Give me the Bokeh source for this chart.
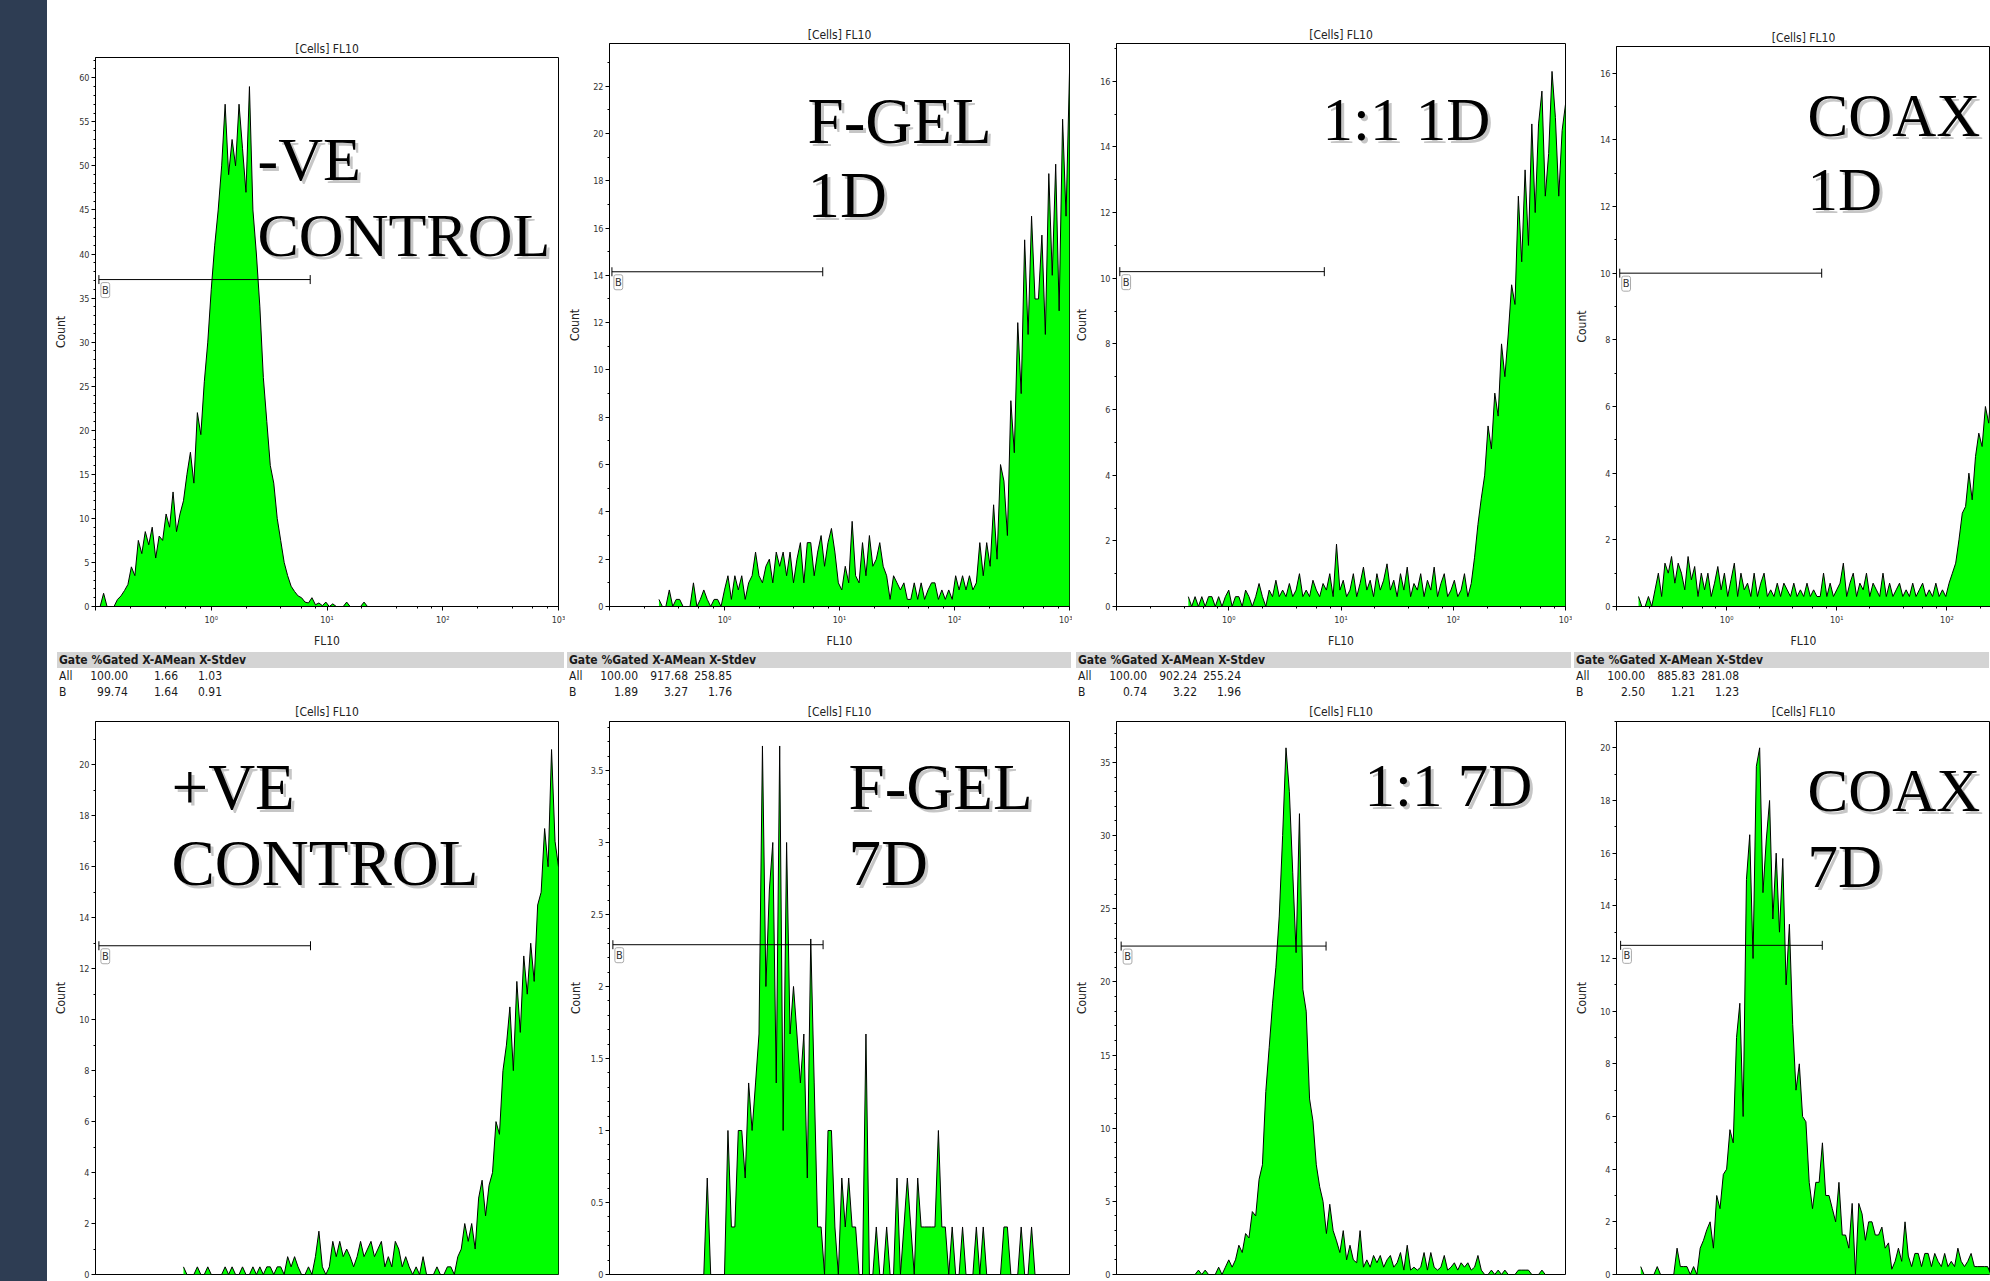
import numpy as np
from bokeh.plotting import figure
from bokeh.models import (Label, Whisker, TeeHead, ColumnDataSource, SingleIntervalTicker,
                          LogTicker, CustomJSTickFormatter, Div, Range1d)
from bokeh.layouts import row, column
from bokeh.embed import file_html
from bokeh.resources import INLINE

# ---------------- data (histogram counts) ----------------
BIN_STEP = 0.03  # bin width, in decades of FL10

p1_start = -0.96
p1_counts = [0, 1.5, 0, 0, 0, 0.8, 1.2, 1.8, 2.5, 4.5,
             3.5, 7.5, 6, 8.5, 7, 9, 5.5, 8, 7.5, 10.5,
             9, 13, 8.5, 10.5, 12, 15, 17.5, 14, 22, 19.5,
             25.5, 30, 36, 41, 45, 50, 57, 49, 53, 50,
             57, 52, 47, 59, 45, 40, 34, 26, 21, 16,
             14, 10, 7.5, 5, 3.5, 2.3, 1.7, 1.2, 1, 0.5,
             0.4, 1, 0.2, 0.4, 0.1, 0.5, 0, 0.3, 0, 0,
             0, 0.5, 0, 0, 0, 0, 0.5, 0]

p2_start = -0.57
p2_counts = [0.3, 0, 0, 0.7, 0, 0.3, 0.3, 0, 0, 0,
             1.0, 0, 0.3, 0.7, 0.3, 0, 0.3, 0.3, 0, 0.7,
             1.3, 0.3, 1.3, 0.7, 1.3, 0.3, 1.0, 1.3, 2.3, 1.3,
             1.0, 1.7, 2.0, 1.0, 2.3, 1.7, 2.3, 1.3, 2.3, 1.0,
             2.0, 2.7, 1.0, 2.7, 2.7, 1.3, 2.3, 3.0, 1.7, 2.7,
             3.3, 2.3, 1.0, 0.7, 1.7, 1.0, 3.6, 1.3, 1.0, 2.7,
             1.3, 3.0, 1.7, 2.0, 2.7, 1.7, 1.3, 0.3, 1.3, 1.0,
             0.7, 1.0, 0.3, 0.3, 1.0, 0.3, 1.0, 0.3, 0.7, 1.0,
             1.0, 0.3, 0.7, 0.3, 0.7, 0.3, 1.3, 0.7, 1.3, 0.7,
             1.3, 0.7, 1.0, 2.7, 1.3, 2.7, 1.7, 4.3, 2.0, 6.0,
             5.3, 3.0, 8.7, 6.5, 12.0, 9.0, 15.5, 11.5, 16.5, 13.0,
             13.0, 15.7, 11.5, 18.3, 14.0, 18.7, 12.5, 20.6, 16.5, 22.6]

p3_start = -0.36
p3_counts = [0.3, 0, 0.3, 0, 0.3, 0, 0.3, 0.3, 0, 0.3,
             0, 0.3, 0.5, 0, 0.3, 0.3, 0, 0.5, 0.3, 0,
             0.3, 0.7, 0.3, 0, 0.5, 0.3, 0.8, 0.3, 0.5, 0.3,
             0.7, 0.3, 0.5, 1.0, 0.3, 0.5, 0.3, 0.8, 0.5, 0.3,
             0.7, 0.5, 1.0, 0.3, 1.9, 0.5, 0.8, 0.3, 0.5, 1.0,
             0.3, 0.7, 1.2, 0.5, 0.8, 0.3, 1.0, 0.5, 0.8, 1.3,
             0.5, 0.8, 0.3, 1.0, 0.5, 1.2, 0.3, 0.7, 0.5, 1.0,
             0.3, 0.8, 0.5, 1.2, 0.3, 0.7, 1.0, 0.3, 0.5, 0.8,
             0.3, 0.5, 1.0, 0.3, 0.7, 1.5, 2.5, 3.3, 4.0, 5.5,
             4.8, 6.5, 5.8, 8.0, 7.0, 8.3, 9.8, 9.2, 12.5, 10.5,
             13.3, 11.0, 14.7, 12.0, 14.7, 15.7, 12.5, 13.8, 16.3, 14.9,
             12.5, 14.5, 15.3]

p4_start = -0.80
p4_counts = [0.3, 0, 0, 0.3, 0, 0.5, 1.0, 0.3, 1.3, 1.0,
             1.5, 0.7, 1.3, 1.0, 0.5, 1.5, 0.8, 1.2, 0.3, 1.0,
             0.5, 1.0, 0.3, 0.7, 1.2, 0.5, 1.0, 0.3, 0.8, 1.3,
             0.3, 1.0, 0.5, 0.7, 0.3, 1.0, 0.3, 0.7, 1.0, 0.3,
             0.5, 0.3, 0.7, 0.3, 0.7, 0.5, 0.3, 0.7, 0.3, 0.5,
             0.3, 0.7, 0.3, 0.5, 0.3, 0.3, 1.0, 0.3, 0.7, 0.3,
             0.5, 0.7, 1.3, 0.3, 0.7, 1.0, 0.3, 0.7, 0.5, 1.0,
             0.3, 0.7, 0.5, 0.3, 1.0, 0.3, 0.7, 0.3, 0.5, 0.7,
             0.3, 0.5, 0.3, 0.7, 0.3, 0.5, 0.7, 0.3, 0.5, 0.3,
             0.7, 0.3, 0.5, 0.3, 0.7, 1.0, 1.3, 2.0, 2.8, 3.0,
             4.0, 3.2, 4.5, 5.2, 4.8, 6.0, 5.5, 7.0]

p5_start = -0.24
p5_counts = [0.3, 0, 0, 0, 0.3, 0, 0, 0.3, 0, 0,
             0, 0, 0.3, 0, 0.3, 0, 0, 0.3, 0, 0,
             0.3, 0, 0.3, 0, 0.3, 0.3, 0, 0.3, 0.3, 0,
             0.7, 0.3, 0.7, 0.3, 0, 0, 0.3, 0, 0.7, 1.7,
             0.3, 0, 0.3, 1.3, 0.7, 1.3, 0.7, 1.0, 0.7, 0.3,
             0.7, 1.3, 0.7, 1.0, 1.3, 0.7, 1.0, 1.3, 0.3, 0.7,
             0.3, 1.3, 1.0, 0.3, 0.7, 0.3, 0, 0.3, 0, 0.7,
             0, 0, 0, 0.3, 0, 0, 0.3, 0.3, 0, 0.7,
             1.0, 2.0, 1.3, 2.0, 1.0, 3.0, 3.7, 2.3, 3.5, 4.0,
             6.0, 5.5, 8.0, 9.0, 10.5, 8.0, 11.5, 9.5, 12.5, 11.0,
             13.0, 11.5, 14.5, 15.0, 17.5, 16.0, 20.6, 17.0, 16.0]

p6_start = -0.18
p6_counts = [0, 0.67, 0, 0, 0, 0, 0, 1.0, 0.33, 0.33,
             1.0, 1.0, 0.67, 1.33, 1.0, 1.33, 1.67, 3.67, 2.0, 2.67,
             3.0, 1.33, 3.67, 1.0, 3.0, 1.67, 2.0, 1.67, 1.33, 1.67,
             0.67, 2.33, 1.33, 0.33, 0.33, 0, 1.0, 1.0, 0.33, 0,
             0.67, 0.33, 0.67, 0.33, 0.33, 0, 0, 1.67, 0, 0,
             0.33, 0, 0, 0.33, 0, 0, 0.67, 0, 0.33, 0.67,
             0.33, 0, 0.67, 0.33, 0.33, 0.33, 0.33, 0.33, 1.0, 0.33,
             0.33, 0, 0.33, 0, 0, 0.33, 0, 0, 0, 0.33,
             0, 0.33, 0, 0, 0, 0, 0, 0.33, 0.33, 0,
             0, 0, 0.33, 0, 0, 0.33, 0]

p7_start = -0.30
p7_counts = [0, 0.3, 0, 0.3, 0, 0, 0, 0.5, 0, 0.5,
             1.0, 0.5, 1.0, 2.0, 1.5, 2.8, 2.5, 4.3, 4.0, 6.5,
             7.5, 12.5, 15.5, 18.5, 21.0, 24.5, 30.0, 36.0, 33.0, 27.5,
             22.0, 31.5, 19.5, 18.0, 12.0, 10.5, 7.5, 6.0, 5.0, 2.8,
             4.8, 3.0, 2.3, 1.5, 3.0, 1.0, 2.0, 1.0, 0.8, 3.0,
             0.5, 1.0, 0.5, 1.3, 0.8, 1.3, 0.5, 1.0, 1.3, 0.5,
             0.8, 1.5, 0.3, 2.0, 0.3, 0.5, 0.3, 0.5, 1.5, 0.3,
             1.5, 0.5, 0.3, 0.5, 1.3, 0.3, 0.5, 0.8, 0.3, 0.8,
             0.5, 0.8, 0.3, 0.5, 1.3, 0.3, 0, 0, 0.3, 0,
             0.3, 0, 0.3, 0, 0, 0, 0.3, 0.3, 0.3, 0.3,
             0, 0, 0, 0.3, 0]

p8_start = -0.78
p8_counts = [0.3, 0, 0, 0, 0, 0.3, 0, 0, 0, 0,
             0, 1.0, 0.3, 0.3, 0.3, 0, 0.3, 0, 1.0, 1.3,
             1.7, 2.0, 1.0, 3.0, 2.5, 3.8, 4.0, 5.5, 5.0, 9.0,
             10.3, 6.0, 15.0, 16.7, 12.0, 19.3, 20.0, 14.5, 16.5, 18.0,
             13.5, 16.0, 13.0, 15.8, 11.0, 13.3, 9.5, 7.0, 8.0, 6.0,
             5.8, 3.5, 2.5, 3.5, 3.5, 5.0, 3.0, 3.0, 2.5, 2.0,
             3.5, 1.5, 1.5, 1.0, 2.7, 0, 2.7, 2.3, 1.3, 2.0,
             2.0, 1.5, 1.5, 1.8, 1.0, 1.2, 0.2, 0.5, 1.0, 0.5,
             2.0, 0.7, 0.3, 0.8, 0.8, 0.3, 0.8, 0.8, 0.3, 0.8,
             0.5, 0.3, 0.8, 0.3, 0.5, 0.3, 1.0, 0.5, 0.3, 0.5,
             0.8, 0.3, 0.3, 0.3, 0.3, 0.3, 0]

starts = [p1_start, p2_start, p3_start, p4_start, p5_start, p6_start, p7_start, p8_start]
counts = [p1_counts, p2_counts, p3_counts, p4_counts, p5_counts, p6_counts, p7_counts, p8_counts]

panel_text = [["-VE", "CONTROL"], ["F-GEL", "1D"], ["1:1 1D"], ["COAX", "1D"],
              ["+VE", "CONTROL"], ["F-GEL", "7D"], ["1:1 7D"], ["COAX", "7D"]]
y_top = [62.3, 23.8, 17.15, 16.8, 21.7, 3.84, 37.8, 21.0]
y_step = [5, 2, 2, 2, 2, 0.5, 5, 2]
y_minor = [5, 2, 2, 2, 2, 5, 5, 2]
x_max = [1000, 1000, 1000, 249, 1000, 1000, 1000, 249]
gate_y = [37.1, 14.15, 10.2, 10.0, 12.9, 2.29, 22.45, 12.5]
gate_lo = [0.107, 0.105, 0.107, 0.107, 0.107, 0.107, 0.11, 0.109]
gate_hi = [7.16, 7.15, 7.1, 7.3, 7.2, 7.2, 7.36, 7.39]

stats_header = "Gate %Gated X-AMean X-Stdev"
stats_rows = [
    [("All", "100.00", "1.66", "1.03"), ("B", "99.74", "1.64", "0.91")],
    [("All", "100.00", "917.68", "258.85"), ("B", "1.89", "3.27", "1.76")],
    [("All", "100.00", "902.24", "255.24"), ("B", "0.74", "3.22", "1.96")],
    [("All", "100.00", "885.83", "281.08"), ("B", "2.50", "1.21", "1.23")],
]

# ---------------- layout / style constants ----------------
UI = "'DejaVu Sans Condensed', Roboto, sans-serif"
SERIF = "Liberation Serif"
CSS_UI = "'DejaVu Sans Condensed',Roboto,sans-serif"
GREEN = "#00ff00"

BAND_W = 47
COL_W = [518, 507, 500, 418]
B_LEFT = [48, 40, 42, 40]
B_RIGHT = [7, 3, 7, 0]
TOP_H, TAB_H, BOT_H = 650, 50, 581
TOP_BT = [57, 43, 43, 46]
TOP_BB = 42
BOT_BT = [20, 20, 20, 21]
BOT_BB = 7
LABEL_POS = [[(162, 448), (162, 372)], [(198, 486), (198, 412)], [(206, 487)],
             [(191, 491), (191, 417)],
             [(76, 488), (76, 412)], [(239, 488), (239, 412)], [(248, 489)],
             [(191, 484), (191, 408)]]
LABEL_SIZE = ["62px", "65px", "61px", "61px", "65px", "65px", "61px", "61px"]
COUNT_STANDOFF = [8, 8, 8, 8, 8, 5, 8, 8]
TABLE_LEFT = [12, 4, 6, 4]

x_fmt = CustomJSTickFormatter(code="""
const e = Math.round(Math.log10(tick));
if (e < 0) return "";
const s = ["\u2070", "\u00b9", "\u00b2", "\u00b3", "\u2074"];
return "10" + s[e];
""")
y_fmt = CustomJSTickFormatter(code="return String(Math.round(tick * 100) / 100);")


def make_panel(k, width, height, bt, bb, top_row):
    c = k % 4
    p = figure(width=width, height=height, x_axis_type="log",
               x_range=Range1d(0.1, x_max[k]), y_range=Range1d(0, y_top[k]),
               output_backend="svg", toolbar_location=None,
               min_border_left=B_LEFT[c], min_border_right=B_RIGHT[c],
               min_border_top=bt, min_border_bottom=bb, title="[Cells] FL10")
    p.title.align = "center"
    p.title.text_font = UI
    p.title.text_font_size = "12px"
    p.title.text_font_style = "normal"
    p.title.text_color = "#222222"
    p.title.standoff = 4 if top_row else 5
    p.grid.visible = False
    p.outline_line_color = "black"
    p.outline_line_width = 1
    p.background_fill_color = "white"
    p.border_fill_color = "white"

    yax = p.yaxis[0]
    yax.ticker = SingleIntervalTicker(interval=y_step[k], num_minor_ticks=y_minor[k])
    yax.formatter = y_fmt
    yax.axis_label = "Count"
    yax.axis_label_text_font = UI
    yax.axis_label_text_font_size = "12px"
    yax.axis_label_text_font_style = "normal"
    yax.axis_label_text_color = "#222222"
    yax.axis_label_standoff = COUNT_STANDOFF[k]
    yax.major_label_text_font = UI
    yax.major_label_text_font_size = "9px"
    yax.major_label_text_color = "#333333"
    yax.major_label_standoff = 2
    yax.major_tick_in = 0
    yax.major_tick_out = 4
    yax.minor_tick_in = 0
    yax.minor_tick_out = 2
    yax.axis_line_color = "black"

    xax = p.xaxis[0]
    if top_row:
        xax.ticker = LogTicker()
        xax.formatter = x_fmt
        xax.axis_label = "FL10"
        xax.axis_label_text_font = UI
        xax.axis_label_text_font_size = "12px"
        xax.axis_label_text_font_style = "normal"
        xax.axis_label_text_color = "#222222"
        xax.axis_label_standoff = 6
        xax.major_label_text_font = UI
        xax.major_label_text_font_size = "9px"
        xax.major_label_text_color = "#333333"
        xax.major_label_standoff = 4
        xax.major_tick_in = 0
        xax.major_tick_out = 4
        xax.minor_tick_in = 0
        xax.minor_tick_out = 2
    else:
        xax.visible = False

    xs = 10 ** (starts[k] + BIN_STEP * np.arange(len(counts[k])))
    src = ColumnDataSource(dict(x=xs, y=counts[k]))
    p.varea(x="x", y1=0, y2="y", source=src, fill_color=GREEN)
    p.line("x", "y", source=src, line_color="black", line_width=1)

    gsrc = ColumnDataSource(dict(base=[gate_y[k]], lower=[gate_lo[k]], upper=[gate_hi[k]]))
    p.add_layout(Whisker(source=gsrc, base="base", lower="lower", upper="upper",
                         dimension="width", line_color="black", line_width=1, level="overlay",
                         lower_head=TeeHead(size=9, line_color="black", line_width=1),
                         upper_head=TeeHead(size=9, line_color="black", line_width=1)))
    p.add_layout(Label(x=gate_lo[k], y=gate_y[k], text="B", x_offset=2, y_offset=-3,
                       text_baseline="top", text_font=UI, text_font_size="11px",
                       text_color="#333333", border_line_color="#aaaaaa",
                       background_fill_color="white", padding=1, border_radius=2))

    for (lx, ly), txt in zip(LABEL_POS[k], panel_text[k]):
        p.add_layout(Label(x=lx + 3, y=ly - 3, x_units="screen", y_units="screen", text=txt,
                           text_font=SERIF, text_font_size=LABEL_SIZE[k], text_color="#808080",
                           text_alpha=0.45, text_baseline="alphabetic"))
        p.add_layout(Label(x=lx, y=ly, x_units="screen", y_units="screen", text=txt,
                           text_font=SERIF, text_font_size=LABEL_SIZE[k], text_color="black",
                           text_baseline="alphabetic"))
    return p


def stats_div(c):
    width = COL_W[c]
    tl = TABLE_LEFT[c]
    bl = tl - 2
    h = [f'<div style="position:relative;width:{width}px;height:{TAB_H}px;'
         f'font-family:{CSS_UI};font-size:12px;color:#1a1a1a;">']
    h.append(f'<div style="position:absolute;left:{bl}px;top:2px;width:{width - bl - 1}px;'
             f'height:16px;background:#d4d4d4;"></div>')
    h.append(f'<span style="position:absolute;left:{tl}px;top:2px;line-height:16px;'
             f'font-weight:bold;white-space:nowrap;">{stats_header}</span>')
    for r, (name, a, b, d) in enumerate(stats_rows[c]):
        top = 19 + 16 * r
        h.append(f'<span style="position:absolute;left:{tl}px;top:{top}px;line-height:15px;">{name}</span>')
        for v, end in zip((a, b, d), (69, 119, 163)):
            h.append(f'<span style="position:absolute;right:{width - (tl + end)}px;top:{top}px;'
                     f'line-height:15px;white-space:nowrap;">{v}</span>')
    h.append('</div>')
    return Div(text="".join(h), width=width, height=TAB_H, margin=(0, 0, 0, 0))


band = Div(text=f'<div style="width:{BAND_W}px;height:{TOP_H + TAB_H + BOT_H}px;background:#2e3d53;"></div>',
           width=BAND_W, height=TOP_H + TAB_H + BOT_H, margin=(0, 0, 0, 0))

cols = []
for c in range(4):
    top = make_panel(c, COL_W[c], TOP_H, TOP_BT[c], TOP_BB, True)
    bot = make_panel(c + 4, COL_W[c], BOT_H, BOT_BT[c], BOT_BB, False)
    cols.append(column(top, stats_div(c), bot))

layout = row(band, *cols)

with open("out.html", "w", encoding="utf-8") as f:
    f.write(file_html(layout, INLINE))
